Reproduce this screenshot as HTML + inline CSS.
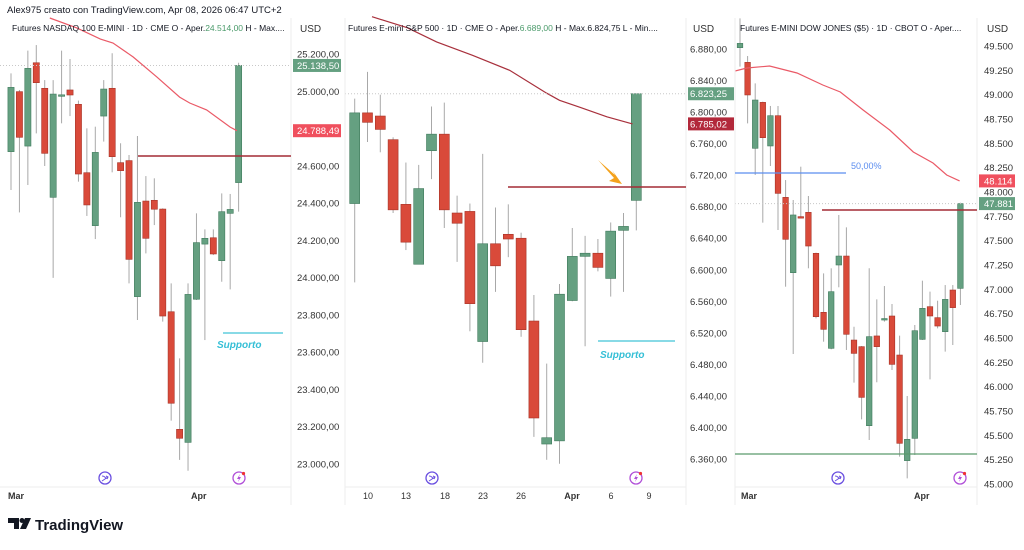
<!DOCTYPE html>
<html><head><meta charset="utf-8">
<style>
body{margin:0;background:#fff;width:1024px;height:545px;overflow:hidden;font-family:"Liberation Sans",sans-serif}
svg text{font-family:"Liberation Sans",sans-serif}
</style></head>
<body>
<svg id="c" width="1024" height="545" xmlns="http://www.w3.org/2000/svg"></svg>
<script>
// ---- NASDAQ data ----
const nqO=[24676,24998,24706,25153,25016,24431,24980,25007,24930,24563,24279,24867,25016,24617,24628,23898,24411,24415,24368,23817,23186,23116,23884,24180,24214,24091,24345,24510];
const nqH=[25096,25007,25218,25248,25060,25060,25218,25173,24950,24801,24810,25060,25204,24721,24658,24760,24545,24533,24372,23969,23567,23969,24345,24259,24259,24452,24449,25153];
const nqL=[24470,24350,24497,24774,24599,23999,24828,24867,24515,24331,24207,24730,24565,24324,23969,23773,24130,24282,23764,23233,23022,22964,23880,23665,24121,23978,23937,24354];
const nqC=[25021,24753,25123,25046,24667,24985,24981,24980,24556,24390,24672,25012,24649,24574,24098,24404,24211,24367,23794,23326,23138,23910,24188,24211,24127,24354,24366,25138.5];
const nqMaIdx=[4.6,7.8,10.6,12.1,14.5,17.3,20,21.2,23.2,26,26.8];
const nqMaVal=[25393,25340,25280,25259,25184,25077,24969,24937,24900,24808,24788.49];
const nqTicks=[25200,25000,24600,24400,24200,24000,23800,23600,23400,23200,23000];
// ---- S&P data ----
const esO=[6684,6799,6795,6765,6683,6607,6751,6772,6672,6674,6509,6633,6645,6640,6535,6379,6383,6561,6617,6621,6589,6650,6688];
const esH=[6817,6851,6822,6768,6736,6733,6807,6812,6694,6684,6747,6679,6683,6647,6568,6481,6582,6653,6643,6639,6660,6672,6824];
const esL=[6584,6762,6749,6672,6625,6607,6715,6653,6610,6522,6482,6572,6616,6515,6388,6359,6354,6560,6503,6598,6566,6572,6650];
const esC=[6799,6787,6778,6676,6635,6703,6772,6676,6659,6557,6633,6605,6639,6524,6412,6387,6569,6617,6621,6603,6649,6655,6823.25];
const esMaIdx=[1.35,4.1,6.4,9.2,12.1,15,16,17.6,19.7,21.7];
const esMaVal=[6921,6907,6889,6872,6853,6824,6815,6806,6794,6785.02];
const esTicks=[6880,6840,6800,6760,6720,6680,6640,6600,6560,6520,6480,6440,6400,6360];
// ---- DOW data ----
const ymO=[49483,49332,48449,48921,48473,48784,47945,47171,47747,47791,47370,46764,46394,47250,47342,46479,46411,45599,46521,46695,46726,46325,45240,45469,46486,46822,46709,46565,46993,47010];
const ymH=[49784,49397,49116,48928,48884,48884,48123,47918,48260,47959,47377,47164,47216,47764,47637,46616,46418,47216,46897,47034,46849,46524,45904,46634,47089,46976,46883,47044,47044,47890];
const ymL=[49288,48705,48175,47685,48267,47610,47027,46336,47730,47216,46702,46462,46384,47021,46377,46041,45664,45452,46045,46668,46171,45281,45058,45298,46480,46075,46599,46360,46428,46839];
const ymC=[49527,48997,48945,48558,48784,47986,47514,47764,47744,47445,46719,46589,46976,47342,46538,46342,45890,46514,46411,46700,46229,45418,45459,46575,46805,46726,46623,46897,46812,47881];
const ymMaIdx=[-0.66,0.9,3.9,7.5,10.9,13.2,16.2,19.7,22.8,25.4,27.2,28.9];
const ymMaVal=[49243,49274,49295,49223,49099,49027,48842,48637,48411,48298,48175,48114];
const ymTicks=[49500,49250,49000,48750,48500,48250,48000,47750,47500,47250,47000,46750,46500,46250,46000,45750,45500,45250,45000];

const NS="http://www.w3.org/2000/svg";
const svg=document.getElementById('c');
function mk(tag,attrs,parent){const e=document.createElementNS(NS,tag);for(const k in attrs)e.setAttribute(k,attrs[k]);(parent||svg).appendChild(e);return e;}
function txt(x,y,s,attrs){const e=mk('text',Object.assign({x:x,y:y,'font-size':9.5,fill:'#131722'},attrs||{}));e.textContent=s;return e;}
const GREEN='#65a081',RED='#d94a3a';

function fmt(v,dec){let s=Math.abs(v).toFixed(dec).replace('.',',');let [a,b]=s.split(',');a=a.replace(/\B(?=(\d{3})+(?!\d))/g,'.');return b!==undefined?a+','+b:a;}

function panel(p){
  const g=mk('g',{});
  
  
  const cid='clip'+p.name;
  const cp=mk('clipPath',{id:cid},g);mk('rect',{x:p.x0,y:0,width:p.x1-p.x0,height:487},cp);
  const plot=mk('g',{'clip-path':'url(#'+cid+')'},g);
  const xs=i=>p.first+i*p.step;
  const ys=v=>p.yRef+(p.pRef-v)*p.k;
  for(let i=0;i<p.O.length;i++){
    const up=p.C[i]>=p.O[i];const col=up?GREEN:RED;
    const cx=xs(i);
    const w=mk('line',{x1:cx,x2:cx,y1:ys(p.H[i]),y2:ys(p.L[i]),stroke:'#a8a8a8','stroke-width':1},plot);
    
    
    const t=ys(Math.max(p.O[i],p.C[i])),b=ys(Math.min(p.O[i],p.C[i]));
    const r=mk('rect',{x:cx-p.bw/2,y:t,width:p.bw,height:Math.max(1.5,b-t),fill:col,stroke:up?'#3f7a5c':'#a63226','stroke-width':0.6},plot);
    
    
  }
  let d='';for(let i=0;i<p.maI.length;i++){d+=(i?'L':'M')+xs(p.maI[i]).toFixed(1)+','+ys(p.maV[i]).toFixed(1);}
  const ma=mk('path',{d:d,fill:'none',stroke:p.maCol,'stroke-width':1.2},plot);
  
  
  const lp=p.C[p.C.length-1];
  mk('line',{x1:p.x0,x2:p.x1,y1:ys(lp),y2:ys(lp),stroke:'#c8c8c8','stroke-dasharray':'1,2'},plot);
  for(const t of p.ticks){const e=txt(p.ax,ys(t)+3.5,fmt(t,p.dec),{fill:'#333'});}
  txt(p.ax+3,32,'USD',{fill:'#333','font-size':10});
  const mv=p.maV[p.maV.length-1];
  mk('rect',{x:p.x1+2,y:ys(mv)-6.5,width:p.lw,height:13,fill:p.maLabCol},g);
  txt(p.ax,ys(mv)+3.5,fmt(mv,p.dec),{fill:'#fff'});
  const lb=mk('rect',{x:p.x1+2,y:ys(lp)-6.5,width:p.lw,height:13,fill:GREEN},g);
  
  
  txt(p.ax,ys(lp)+3.5,fmt(lp,p.dec),{fill:'#fff'});
  mk('line',{x1:p.x1,x2:p.x1,y1:18,y2:505,stroke:'#eee'},g);
  mk('line',{x1:p.x0,x2:p.x1,y1:487,y2:487,stroke:'#eee'},g);
  return {xs,ys,g};
}

txt(7,13,'Alex975 creato con TradingView.com, Apr 08, 2026 06:47 UTC+2',{'font-size':9.5,});

const P1=panel({name:'nasdaq-panel',x0:0,x1:291,first:11,step:8.43,bw:6.2,yRef:54,pRef:25200,k:410/2200,O:nqO,H:nqH,L:nqL,C:nqC,maI:nqMaIdx,maV:nqMaVal,maCol:'#ea5a67',maLabCol:'#f0505e',ticks:nqTicks,ax:297,dec:2,lw:48});
txt(12,31,'Futures NASDAQ 100 E-MINI · 1D · CME  O - Aper.',{'font-size':8.5,}).innerHTML+='<tspan fill="#4a9a6a">24.514,00</tspan>  H - Max....';
mk('line',{x1:138,x2:291,y1:P1.ys(24653),y2:P1.ys(24653),stroke:'#a42b35','stroke-width':1.5,});
mk('line',{x1:223,x2:283,y1:333,y2:333,stroke:'#41c3d8','stroke-width':1.2,});
txt(217,348,'Supporto',{fill:'#35bfd6','font-size':10,'font-style':'italic','font-weight':'bold',});
txt(8,499,'Mar',{'font-size':9,'font-weight':'bold',fill:'#333'});txt(191,499,'Apr',{'font-size':9,'font-weight':'bold',fill:'#333'});

const P2=panel({name:'sp500-panel',x0:345,x1:686,first:354.7,step:12.8,bw:10,yRef:49,pRef:6880,k:410/520,O:esO,H:esH,L:esL,C:esC,maI:esMaIdx,maV:esMaVal,maCol:'#a8303c',maLabCol:'#b2283a',ticks:esTicks,ax:690,dec:2,lw:46});
mk('line',{x1:345,x2:345,y1:18,y2:505,stroke:'#eee'});
txt(348,31,'Futures E-mini S&P 500 · 1D · CME  O - Aper.',{'font-size':8.5,}).innerHTML+='<tspan fill="#4a9a6a">6.689,00</tspan>  H - Max.6.824,75  L - Min....';
mk('line',{x1:508,x2:686,y1:P2.ys(6705),y2:P2.ys(6705),stroke:'#a42b35','stroke-width':1.5,});
mk('path',{d:'M598,160 L615,175 L612,170 L622,184 L609,181 L614,178 Z',fill:'#f4a21c',});
mk('line',{x1:598,x2:675,y1:341,y2:341,stroke:'#41c3d8','stroke-width':1.2,});
txt(600,358,'Supporto',{fill:'#35bfd6','font-size':10,'font-style':'italic','font-weight':'bold',});
[['10',368],['13',406],['18',445],['23',483],['26',521],['Apr',572],['6',611],['9',649]].forEach(a=>{const e=txt(a[1],499,a[0],{'font-size':9,'text-anchor':'middle',fill:'#333','font-weight':a[0]=='Apr'?'bold':'normal'});});

const P3=panel({name:'dow-panel',x0:735,x1:977,first:740,step:7.6,bw:5.6,yRef:46,pRef:49500,k:438/4500,O:ymO,H:ymH,L:ymL,C:ymC,maI:ymMaIdx,maV:ymMaVal,maCol:'#ea5a67',maLabCol:'#f0505e',ticks:ymTicks,ax:984,dec:0,lw:36});
mk('line',{x1:735,x2:735,y1:18,y2:505,stroke:'#eee'});
txt(740,31,'Futures E-MINI DOW JONES ($5) · 1D · CBOT  O - Aper....',{'font-size':8.5,});
mk('line',{x1:735,x2:846,y1:173,y2:173,stroke:'#5b8def','stroke-width':1.2,});
txt(851,169,'50,00%',{fill:'#5b8def','font-size':9});
mk('line',{x1:822,x2:977,y1:210,y2:210,stroke:'#a42b35','stroke-width':1.5,});
mk('line',{x1:735,x2:977,y1:454,y2:454,stroke:'#5a9a6c','stroke-width':1.2,});
txt(741,499,'Mar',{'font-size':9,'font-weight':'bold',fill:'#333'});txt(914,499,'Apr',{'font-size':9,'font-weight':'bold',fill:'#333'});

function icon(x,bolt){const g=mk('g',{});
mk('circle',{cx:x,cy:478,r:6,fill:'#fff',stroke:bolt?'#b04fd8':'#6a4fe0','stroke-width':1.3},g);
if(bolt){mk('path',{d:`M${x+1},${474} L${x-2},${479} L${x},${479} L${x-1},${482} L${x+2},${477} L${x},${477} Z`,fill:'#b04fd8'},g);mk('circle',{cx:x+4.5,cy:473.5,r:1.6,fill:'#e33'},g);}
else{mk('path',{d:`M${x-3},${476} Q${x},${476} ${x+1},${479} M${x-3},${481} L${x+3},${477} M${x+1},${476} L${x+3},${477} L${x+2},${479}`,fill:'none',stroke:'#6a4fe0','stroke-width':1},g);}
}
icon(105,false);icon(239,true);icon(432,false);icon(636,true);icon(838,false);icon(960,true);

const lg=mk('g',{});
mk('path',{d:'M8,518 h11 v11 h-5 v-6 h-6 z',fill:'#131722'},lg);
mk('circle',{cx:22,cy:520.5,r:2.5,fill:'#131722'},lg);
mk('path',{d:'M25,518 h6 l-5,11 h-6 z',fill:'#131722'},lg);
txt(35,530,'TradingView',{'font-size':15,'font-weight':'bold',fill:'#131722'});
</script>
</body></html>
